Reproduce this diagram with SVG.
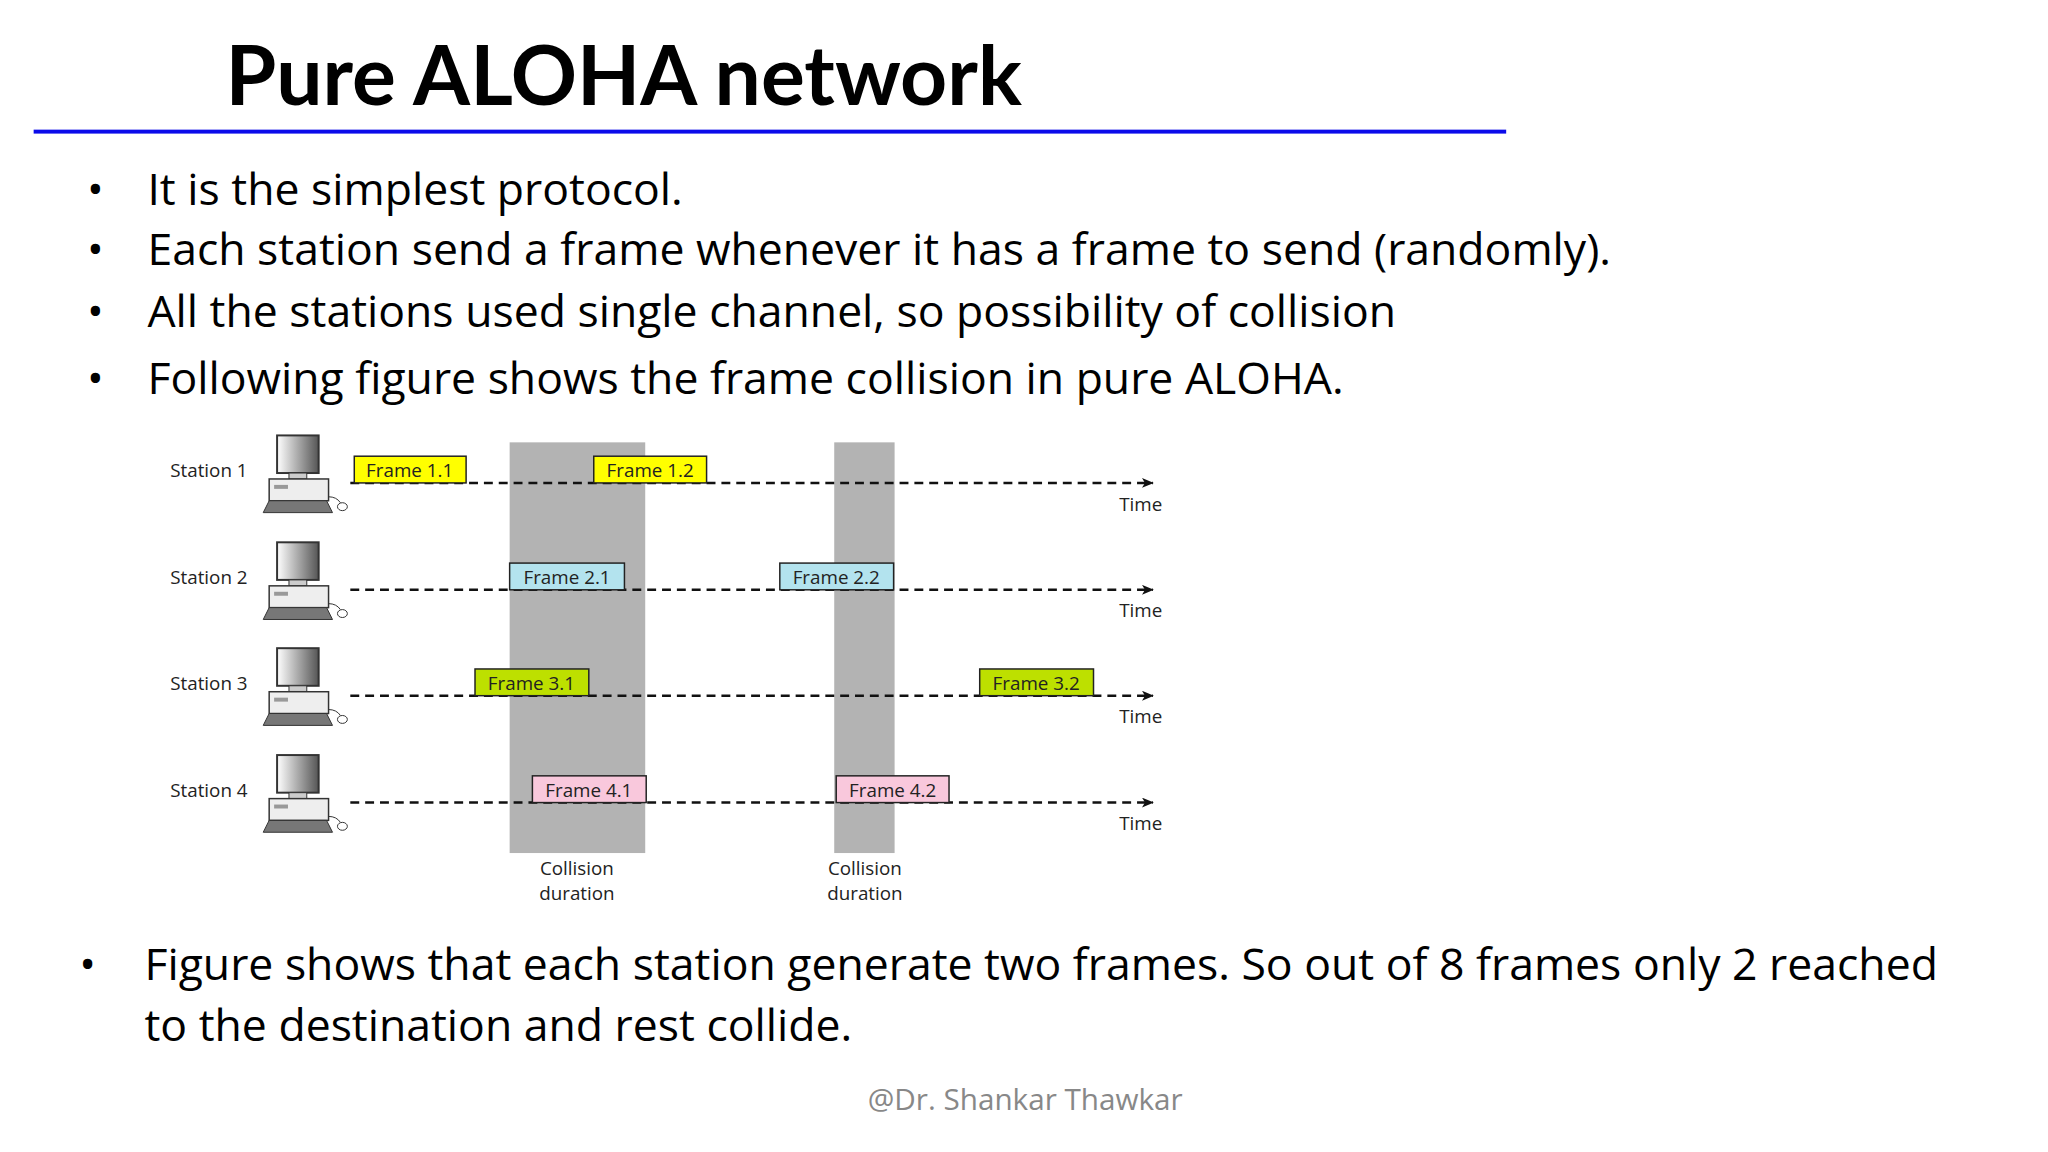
<svg xmlns="http://www.w3.org/2000/svg" width="2048" height="1152" viewBox="0 0 2048 1152">
<style>
.b{font-family:"Open Sans","Liberation Sans",sans-serif;font-size:45px;fill:#000}
.s{font-family:"Open Sans","Liberation Sans",sans-serif;font-size:19px;fill:#222}
.f{stroke:#222;stroke-width:1.5}
.ln{stroke:#111;stroke-width:2.5;stroke-dasharray:9 6;fill:none}
.g{fill:#b3b3b3}
</style>
<defs>
<marker id="ah" markerWidth="12" markerHeight="10" refX="11" refY="5" orient="auto" markerUnits="userSpaceOnUse"><path d="M0,0 L12,5 L0,10 L3,5 Z" fill="#111"/></marker>
<linearGradient id="mg" x1="0" x2="1"><stop offset="0" stop-color="#fff"/><stop offset="1" stop-color="#555"/></linearGradient>
<g id="pc">
<rect x="16" y="0" width="42" height="38" fill="url(#mg)" stroke="#333" stroke-width="2"/>
<rect x="28" y="38" width="18" height="6" fill="#ccc" stroke="#333"/>
<rect x="8" y="44" width="60" height="22" fill="#eee" stroke="#333" stroke-width="1.5"/>
<rect x="13" y="50" width="14" height="4" fill="#999"/>
<path d="M2,78 L8,66 L66,66 L72,78 Z" fill="#777" stroke="#333"/>
<path d="M68,62 Q76,62 80,68" fill="none" stroke="#333"/>
<ellipse cx="82" cy="72" rx="5" ry="4" fill="#fff" stroke="#333"/>
</g>
</defs>
<rect width="2048" height="1152" fill="#fff"/>
<g transform="scale(0.9896)">
<text x="228" y="106" font-family="Lato,'Open Sans',sans-serif" font-weight="bold" font-size="83" fill="#000">Pure ALOHA network</text>
<rect x="34" y="131" width="1488" height="4" fill="#0b0bea"/>
<g id="bullets" class="b">
<text x="88" y="207">•</text><text x="149" y="207">It is the simplest protocol.</text>
<text x="88" y="268">•</text><text x="149" y="268">Each station send a frame whenever it has a frame to send (randomly).</text>
<text x="88" y="330">•</text><text x="149" y="330">All the stations used single channel, so possibility of collision</text>
<text x="88" y="398">•</text><text x="149" y="398">Following figure shows the frame collision in pure ALOHA.</text>
<text x="80" y="990">•</text><text x="146" y="990">Figure shows that each station generate two frames. So out of 8 frames only 2 reached</text>
<text x="146" y="1052">to the destination and rest collide.</text>
</g>
<text x="1036" y="1122" text-anchor="middle" font-family="'Open Sans',sans-serif" font-size="30" fill="#888">@Dr. Shankar Thawkar</text>
<g id="bands"><rect class="g" x="515" y="447" width="137" height="415"/><rect class="g" x="843" y="447" width="61" height="415"/></g>
<g id="connectors">
<line class="ln" x1="354" y1="488" x2="1165" y2="488" marker-end="url(#ah)"/>
<line class="ln" x1="354" y1="596" x2="1165" y2="596" marker-end="url(#ah)"/>
<line class="ln" x1="354" y1="703" x2="1165" y2="703" marker-end="url(#ah)"/>
<line class="ln" x1="354" y1="811" x2="1165" y2="811" marker-end="url(#ah)"/>
</g>
<g id="station1"><text class="s" x="172" y="482">Station 1</text><use href="#pc" x="264" y="440"/><text class="s" x="1131" y="516">Time</text></g>
<g id="station2"><text class="s" x="172" y="590">Station 2</text><use href="#pc" x="264" y="548"/><text class="s" x="1131" y="624">Time</text></g>
<g id="station3"><text class="s" x="172" y="697">Station 3</text><use href="#pc" x="264" y="655"/><text class="s" x="1131" y="731">Time</text></g>
<g id="station4"><text class="s" x="172" y="805">Station 4</text><use href="#pc" x="264" y="763"/><text class="s" x="1131" y="839">Time</text></g>
<g id="f11"><rect class="f" x="358" y="461" width="113" height="27" fill="#ffff00"/><text class="s" x="414" y="482" text-anchor="middle">Frame 1.1</text></g>
<g id="f12"><rect class="f" x="600" y="461" width="114" height="27" fill="#ffff00"/><text class="s" x="657" y="482" text-anchor="middle">Frame 1.2</text></g>
<g id="f21"><rect class="f" x="515" y="569" width="116" height="27" fill="#b3e3ee"/><text class="s" x="573" y="590" text-anchor="middle">Frame 2.1</text></g>
<g id="f22"><rect class="f" x="788" y="569" width="115" height="27" fill="#b3e3ee"/><text class="s" x="845" y="590" text-anchor="middle">Frame 2.2</text></g>
<g id="f31"><rect class="f" x="480" y="676" width="115" height="27" fill="#bde000"/><text class="s" x="537" y="697" text-anchor="middle">Frame 3.1</text></g>
<g id="f32"><rect class="f" x="990" y="676" width="115" height="27" fill="#bde000"/><text class="s" x="1047" y="697" text-anchor="middle">Frame 3.2</text></g>
<g id="f41"><rect class="f" x="538" y="784" width="115" height="27" fill="#f9c8dc"/><text class="s" x="595" y="805" text-anchor="middle">Frame 4.1</text></g>
<g id="f42"><rect class="f" x="845" y="784" width="114" height="27" fill="#f9c8dc"/><text class="s" x="902" y="805" text-anchor="middle">Frame 4.2</text></g>
<g class="s" text-anchor="middle"><text x="583" y="884">Collision</text><text x="583" y="909">duration</text><text x="874" y="884">Collision</text><text x="874" y="909">duration</text></g>
</g>
</svg>
